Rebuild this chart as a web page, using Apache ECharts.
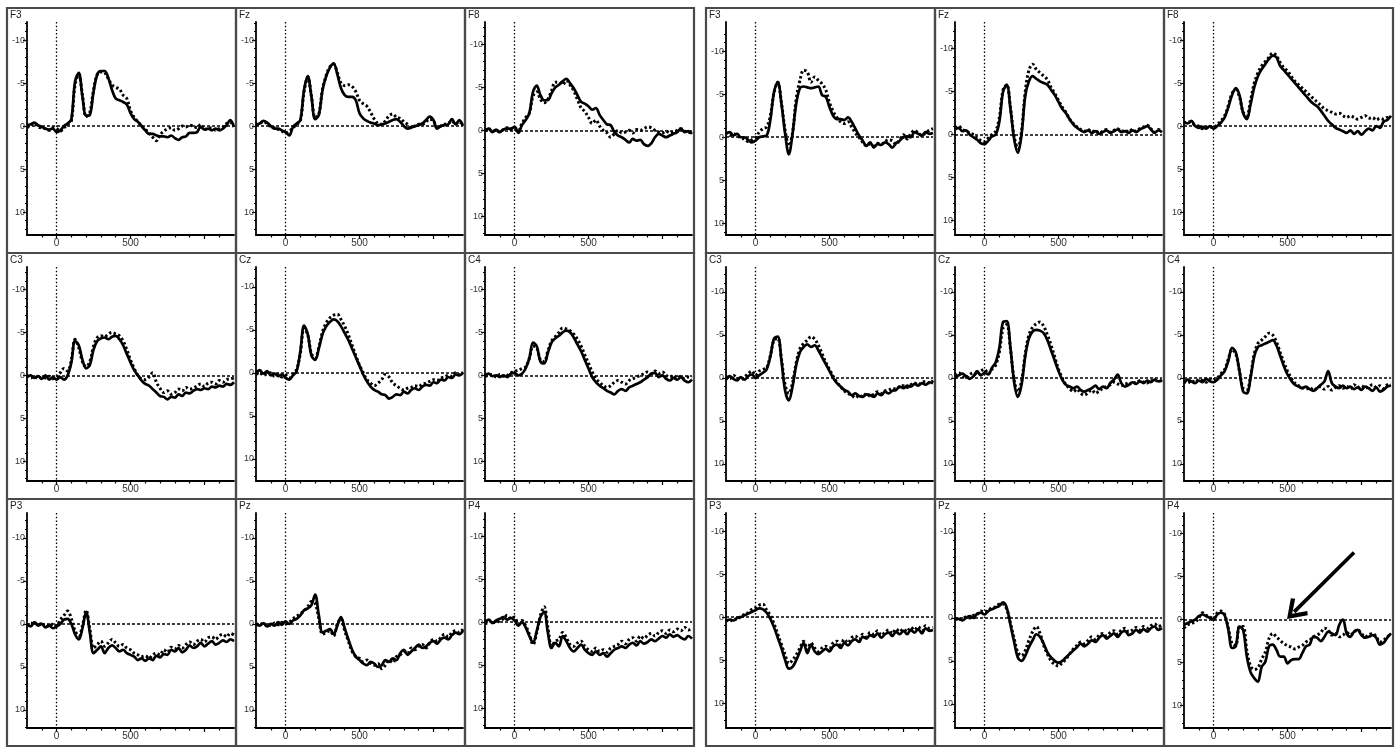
<!DOCTYPE html>
<html>
<head>
<meta charset="utf-8">
<script src="https://cdn.jsdelivr.net/npm/echarts@6/dist/echarts.min.js"></script>
<style>
html,body{margin:0;padding:0;background:#fff;}
#chart{width:1400px;height:754px;}
</style>
</head>
<body>
<div id="chart"></div>
<script>
// time points (ms)
const TIMES = [-200,-175,-150,-125,-100,-75,-50,-25,0,25,50,75,100,125,150,175,200,225,250,275,300,325,350,375,400,425,450,475,500,525,550,575,600,625,650,675,700,725,750,775,800,825,850,875,900,925,950,975,1000,1025,1050,1075,1100,1125,1150,1175,1200];

// tick labels
const X_LABELS = [0, 500];
const X_MAJOR = [0, 500, 1000];
const X_MINOR = [-100, 100, 200, 300, 400, 600, 700, 800, 900, 1100];
const Y_LABELS = [-10, -5, 0, 5, 10];
const Y_MINOR = [-12,-11,-9,-8,-7,-6,-4,-3,-2,-1,1,2,3,4,6,7,8,9,11,12];

// ---------- left group ----------
const F3L_S = [-0.1,-0.2,-0.4,-0.1,0.1,0.3,0.4,0.3, 0.7,0.5,0,-0.3,-0.8,-5.2,-6.2,-3.4, -1.2,-1.3,-4.0,-6.0,-6.4,-6.4,-5.6,-4.2, -3.2,-3.0,-2.8,-2.5,-1.5,-0.8,-0.5,0, 0.5,0.9,0.9,1.1,1.2,1.2,1.3,1.1, 1.4,1.6,1.3,1.2,0.8,0.8,0.7,0.1, 0.4,0.3,0.5,0.3,0.5,0.3,-0.1,-0.7, 0.1];
const F3L_D = [0.2,-0.1,-0.3,0.1,0.2,0.3,0.5,0.2, 0.3,0.6,0.2,-0.2,-0.6,-4.8,-6.0,-3.6, -1.1,-1.6,-4.2,-6.0,-6.3,-6.2,-5.5,-4.8, -4.5,-4.3,-3.6,-3.2,-1.8,-1.0,-0.5,0.0, 0.4,0.8,1.3,1.7,1.0,0.6,0.3,0.2, 0.5,0.3,0.0,0.1,-0.1,0.0,0.2,-0.2, 0.4,0.3,0.2,0.5,0.3,0.1,-0.3,-0.4, 0.1];
const FZL_S = [-0.2,-0.3,-0.6,-0.4,0,0.3,0.3,0.5, 0.7,1.1,0.1,-0.3,-0.7,-4.2,-5.8,-3.4, -0.8,-1.3,-4.2,-5.8,-6.8,-7.3,-6.0,-4.4, -3.6,-3.4,-3.4,-3.0,-1.5,-0.9,-0.6,-0.4, -0.3,-0.1,-0.2,-0.3,-0.5,-0.7,-0.8,-0.5, 0,0.3,0.2,0,-0.1,-0.3,-0.7,-1.1, -0.7,0.3,0,-0.1,-0.2,-0.8,-0.2,-0.7, 0];
const FZL_D = [-0.1,-0.3,-0.5,-0.3,0.1,0.2,0.4,0.6, 0.8,0.6,0.2,-0.2,-0.6,-4.0,-5.7,-3.5, -1.0,-1.4,-4.3,-5.9,-6.9,-7.2,-6.2,-5.0, -4.7,-4.8,-4.6,-4.0,-3.0,-2.6,-2.3,-1.6, -0.8,-0.3,-0.2,-0.6,-1.2,-1.4,-1.0,-0.9, -0.5,-0.2,0.2,0.0,-0.2,-0.2,-0.5,-0.8, -0.6,0.2,0.0,-0.2,-0.3,-0.6,-0.2,-0.5, 0.0];
const F8L_S = [0,-0.2,0.2,-0.1,0.2,-0.1,-0.2,-0.2, -0.4,0.3,-0.6,-1.2,-2.0,-4.5,-5.2,-4.1, -3.5,-3.5,-4.3,-5.0,-5.3,-5.7,-6.0,-5.5, -4.9,-4.1,-3.3,-3.1,-2.8,-2.4,-2.6,-1.8, -1.2,-0.7,-0.6,0.2,0.6,0.8,1.1,1.4, 1.0,1.2,1.1,1.6,1.8,1.5,0.8,0.4, 0.6,0.8,0.6,0.4,0.2,-0.2,0.2,0.1, 0.4];
const F8L_D = [0.1,-0.2,0.1,0.0,0.2,-0.1,-0.3,-0.1, -0.3,0.0,-0.8,-1.5,-2.0,-4.0,-4.5,-3.6, -3.2,-3.6,-4.6,-5.6,-5.6,-5.3,-5.8,-5.3, -4.6,-3.6,-2.6,-2.2,-1.5,-0.8,-1.2,-0.5, 0.0,0.3,0.8,0.4,0.0,0.3,0.2,0.0, 0.3,-0.1,0.0,-0.2,-0.4,-0.3,0.0,0.2, 0.3,0.1,0.3,0.2,0.0,-0.2,0.1,0.2, 0.3];
const C3L_S = [0.2,0.0,0.3,0.1,0.4,0.0,0.5,0.2, 0.5,0.2,0.5,0.0,-1.5,-4.0,-3.5,-1.8, -0.8,-1.2,-3.0,-4.0,-4.3,-4.4,-4.2,-4.5, -4.6,-4.2,-3.5,-2.5,-1.5,-0.6,0.0,0.6, 1.0,1.2,1.6,2.0,2.4,2.5,2.8,2.5, 2.6,2.2,2.4,2.0,2.1,1.8,1.6,1.7, 1.5,1.6,1.3,1.4,1.2,1.3,1.0,1.1, 0.8];
const C3L_D = [0.0,0.3,0.1,0.4,0.2,0.3,0.1,0.4, 0.2,-0.3,-0.8,-0.5,-1.8,-4.2,-3.2,-1.6, -1.0,-1.6,-3.4,-4.4,-4.6,-4.5,-4.8,-5.0, -4.8,-4.6,-4.0,-3.0,-1.8,-0.8,0.0,0.4, 0.5,0.2,-0.3,0.8,1.5,2.0,1.8,2.2, 2.0,1.6,1.8,1.4,1.6,1.5,1.2,1.0, 1.3,0.9,0.8,1.0,0.6,0.8,0.5,0.4, 0.3];
const CZL_S = [0.0,-0.3,0.1,-0.2,0.3,0.1,0.4,0.2, 0.6,0.8,0.3,-0.2,-2.5,-5.5,-4.5,-2.0, -1.5,-2.8,-4.5,-5.4,-5.9,-6.2,-6.0,-5.4, -4.6,-3.8,-2.8,-1.8,-0.8,0.2,1.0,1.6, 2.0,2.2,2.5,2.6,3.0,2.8,2.5,2.6, 2.2,2.4,2.0,1.8,2.0,1.6,1.4,1.5, 1.1,1.2,0.8,0.9,0.5,0.6,0.2,0.3, 0.0];
const CZL_D = [0.2,0.0,0.3,0.1,0.0,0.4,0.2,0.5, 0.3,0.6,0.2,-0.4,-2.3,-5.2,-4.4,-2.2, -1.7,-3.0,-4.8,-5.8,-6.4,-6.7,-6.8,-6.2, -5.4,-4.4,-3.2,-2.0,-0.9,0.0,0.8,1.2, 1.5,1.2,0.8,0.2,0.5,1.2,1.5,1.8, 2.0,1.8,1.7,1.5,1.6,1.3,1.2,1.0, 0.8,0.9,0.6,0.5,0.3,0.4,0.0,0.2, -0.1];
const C4L_S = [0.0,-0.2,0.1,0.0,0.2,0.0,0.2,-0.2, -0.3,0.0,-0.2,-0.8,-2.0,-3.8,-3.4,-1.6, -1.4,-2.6,-3.8,-4.3,-4.6,-5.0,-5.2,-5.0, -4.4,-3.6,-2.8,-1.8,-0.8,0.2,0.8,1.2, 1.5,1.8,2.0,2.2,1.8,1.6,1.8,1.4, 1.2,1.0,0.8,0.5,0.2,-0.2,-0.3,0.2, 0.0,0.4,0.6,0.3,0.5,0.2,0.6,0.8, 0.5];
const C4L_D = [0.1,0.0,-0.1,0.2,-0.1,0.1,0.0,-0.3, -0.5,-0.6,-0.8,-1.0,-2.0,-3.4,-3.2,-1.8, -1.6,-2.8,-4.0,-4.5,-5.0,-5.5,-5.4,-5.2, -4.8,-4.2,-3.4,-2.4,-1.4,-0.4,0.4,0.8, 1.2,1.4,1.2,0.8,0.6,0.8,1.0,0.6, 0.4,0.2,0.0,-0.2,-0.4,-0.2,-0.5,-0.2, -0.4,0.0,0.2,0.0,0.3,0.1,0.4,0.2, 0.3];
const P3L_S = [0.0,0.3,-0.2,0.2,0.0,0.4,0.2,0.5, 0.3,0.0,-0.5,-0.6,0.0,1.2,1.8,0.5, -1.4,1.0,3.4,3.0,2.6,3.4,2.8,2.5, 2.8,3.2,3.0,3.4,3.6,3.8,4.2,4.0, 4.3,4.0,4.2,3.7,3.9,3.5,3.6,3.0, 3.2,2.8,3.3,3.0,2.5,2.8,2.6,2.2, 2.6,2.3,2.0,2.4,2.2,1.9,2.1,1.8, 2.0];
const P3L_D = [0.2,-0.1,0.1,-0.2,0.2,0.0,0.3,0.0, 0.2,-0.5,-1.0,-1.5,-0.6,0.8,1.4,0.2, -1.6,0.6,2.8,2.4,2.0,2.6,2.2,1.8, 2.2,2.6,2.4,2.8,3.0,3.4,3.6,3.8, 3.7,4.0,3.6,3.4,3.6,3.0,3.3,2.7, 2.9,2.5,2.8,2.4,2.1,2.4,2.0,1.8, 2.1,1.6,1.5,1.8,1.4,1.2,1.5,1.1, 1.3];
const PZL_S = [0.0,0.2,-0.1,0.3,0.0,0.2,-0.2,0.1, -0.3,0.0,-0.4,-0.6,-1.0,-1.6,-1.8,-2.2, -3.4,-1.0,1.0,0.8,0.6,1.2,0.2,-0.8, 0.5,1.8,3.0,3.8,4.2,4.6,4.8,4.4, 4.6,5.0,4.8,4.2,4.4,4.0,4.2,3.4, 3.0,3.6,3.2,2.8,2.4,2.8,2.6,2.2, 2.0,2.3,1.8,1.6,1.8,1.3,1.0,1.2, 0.8];
const PZL_D = [0.1,-0.1,0.2,0.0,0.2,-0.1,0.1,-0.2, 0.0,-0.2,-0.6,-0.9,-1.2,-1.5,-2.0,-2.6, -2.4,-0.6,1.2,1.0,0.8,1.4,0.0,-0.6, 0.8,2.0,3.2,3.8,4.0,4.4,4.2,4.6, 4.8,4.6,5.2,4.8,4.2,4.5,3.8,3.6, 3.2,3.4,2.8,3.0,2.6,2.4,2.8,2.2, 1.8,2.0,1.6,1.2,1.5,1.0,0.8,1.0, 0.6];
const P4L_S = [0.0,-0.3,0.1,-0.2,-0.4,-0.6,-0.3,-0.5, -0.2,0.4,0.0,0.6,1.6,2.4,1.0,-0.6, -1.2,1.2,3.0,2.4,2.8,1.6,2.2,3.0, 3.4,3.0,2.6,3.2,3.6,3.8,3.4,3.8, 3.6,4.0,3.6,3.2,3.0,2.8,3.0,2.6, 2.4,2.7,2.2,2.5,2.3,2.0,2.2,1.9, 1.6,1.8,1.4,1.7,1.5,1.8,2.0,1.6, 1.9];
const P4L_D = [0.2,0.0,-0.2,0.1,-0.2,-0.4,-0.8,-0.4, -0.6,0.2,-0.2,0.4,1.4,2.6,1.2,-0.8, -1.8,0.6,2.8,2.2,2.0,1.2,1.8,2.6, 2.8,2.4,2.2,2.8,3.2,3.4,3.0,3.4, 3.2,3.5,3.0,2.8,2.6,2.2,2.5,2.0, 1.8,2.2,1.6,1.9,1.5,1.3,1.6,1.2, 1.0,1.3,0.9,1.1,0.8,1.0,0.6,0.9, 0.7];

// ---------- right group ----------
const F3R_S = [-0.4,-0.6,-0.2,-0.4,0,0,0.3,0.6, 0.4,0,-0.1,-0.2,-2.0,-5.3,-6.4,-3.9, -0.4,2.0,-0.4,-3.9,-5.7,-5.9,-5.8,-5.7, -5.8,-5.9,-4.9,-4.7,-3.5,-2.5,-2.1,-2.1, -2.0,-2.3,-1.8,-1.0,-0.2,0.4,1.0,0.6, 1.2,0.8,0.9,0.6,0.8,1.2,0.7,0.4, 0,-0.1,0,-0.6,-0.4,-0.2,-0.6,-0.4, -0.5];
const F3R_D = [-0.6,-0.2,-0.4,-0.2,0.1,0.2,0.5,0.3, 0.0,-0.6,-1.0,-1.2,-2.5,-5.2,-6.4,-4.0, -0.8,1.0,-0.5,-4.5,-6.6,-7.8,-7.6,-6.4, -7.0,-6.6,-6.2,-5.5,-4.0,-3.0,-2.3,-1.8, -1.6,-1.8,-1.2,-0.5,0.0,0.6,1.0,0.8, 1.0,0.7,0.8,0.5,0.3,0.4,0.8,0.3, -0.3,0.2,-0.4,-0.8,-0.5,-0.2,-0.5,-0.8, -1.0];
const FZR_S = [-0.6,-0.8,-0.4,-0.5,0.0,0.3,0.6,1.0, 1.1,0.7,0.2,0.0,-1.5,-5.0,-5.8,-3.0, 0.5,2.1,0.0,-4.5,-6.2,-6.8,-6.5,-6.2, -6.0,-5.8,-5.2,-4.6,-3.8,-3.0,-2.5,-1.8, -1.2,-0.8,-0.5,-0.3,-0.5,-0.2,-0.4,-0.1, -0.3,-0.5,-0.2,-0.4,-0.6,-0.3,-0.4,-0.2, -0.5,-0.3,-0.6,-0.8,-1.0,-0.6,-0.2,-0.5, -0.3];
const FZR_D = [-0.8,-1.0,-0.6,-0.4,-0.2,0.0,0.4,0.7, 0.8,0.4,0.0,-0.4,-2.0,-5.2,-5.8,-3.2, 0.2,1.6,-0.4,-5.0,-7.5,-8.2,-7.6,-7.2, -6.8,-6.4,-5.5,-4.8,-4.0,-3.2,-2.6,-1.8, -1.3,-0.9,-0.6,-0.4,-0.6,-0.3,-0.5,-0.2, -0.4,-0.6,-0.3,-0.5,-0.7,-0.4,-0.5,-0.3, -0.6,-0.4,-0.7,-0.9,-1.1,-0.7,-0.3,-0.6, -0.4];
const F8R_S = [-0.5,-0.3,-0.6,0.0,0.2,0.1,0.3,0.0, 0.3,0.0,-0.4,-1.0,-2.2,-3.6,-4.4,-3.6, -1.5,-0.8,-2.5,-4.5,-5.8,-6.6,-7.2,-7.8, -8.2,-8.0,-7.0,-6.5,-6.0,-5.5,-5.0,-4.5, -4.0,-3.5,-3.0,-2.6,-2.3,-1.8,-1.2,-0.6, -0.2,0.2,0.4,0.6,0.8,0.5,0.9,0.6, 1.0,0.6,0.3,0.5,0.0,0.2,-0.5,-0.7, -1.2];
const F8R_D = [-0.3,-0.5,-0.4,-0.1,0.0,0.3,0.2,0.1, 0.2,-0.2,-0.6,-1.2,-2.4,-3.8,-4.2,-3.4, -1.6,-1.2,-3.0,-5.0,-6.2,-7.0,-7.5,-8.0, -8.5,-8.2,-7.4,-6.8,-6.4,-5.8,-5.2,-4.8, -4.4,-4.0,-3.6,-3.2,-2.8,-2.4,-2.0,-1.8, -1.6,-1.4,-1.5,-1.2,-1.0,-1.2,-1.0,-0.8, -1.0,-1.2,-0.9,-1.0,-0.7,-0.9,-0.8,-1.0, -1.0];
const C3R_S = [0.2,-0.2,0.1,0.3,-0.1,0.2,-0.2,-0.4, 0.0,-0.3,-0.6,-1.0,-2.5,-4.6,-4.8,-2.0, 1.5,2.6,1.0,-1.5,-3.0,-3.6,-3.9,-3.6, -3.8,-3.2,-2.4,-1.6,-0.8,0.0,0.6,1.0, 1.4,1.6,2.0,1.8,2.1,2.2,1.9,2.0, 2.2,1.8,2.0,1.6,1.8,1.5,1.4,1.0, 1.2,0.9,1.0,0.7,0.9,0.6,0.8,0.5, 0.6];
const C3R_D = [-0.2,0.1,-0.3,0.0,0.2,-0.1,-0.5,-0.8, -0.3,-0.8,-1.0,-1.2,-2.6,-4.4,-4.6,-2.2, 0.8,1.8,0.6,-1.8,-3.4,-4.0,-4.4,-4.8, -4.5,-3.8,-2.8,-1.8,-1.0,-0.2,0.5,1.0, 1.5,1.8,2.0,2.3,2.0,2.2,1.8,2.1, 1.9,1.6,1.8,1.5,1.4,1.2,1.3,1.0, 0.9,1.1,0.8,0.6,0.8,0.5,0.4,0.6, 0.3];
const CZR_S = [0.0,-0.3,-0.5,-0.2,0.1,-0.2,-0.8,-0.3, -0.6,-0.4,-1.2,-1.8,-3.5,-6.5,-6.6,-3.5, 0.5,2.2,0.8,-2.5,-4.6,-5.4,-5.6,-5.5, -5.2,-4.4,-3.2,-2.0,-0.8,0.2,0.8,1.0, 1.2,1.0,1.4,1.6,1.4,1.2,0.9,1.3, 1.0,1.2,0.6,0.2,-0.4,0.6,1.0,0.8, 0.5,0.7,0.4,0.6,0.3,0.5,0.2,0.4, 0.3];
const CZR_D = [-0.3,-0.6,-0.2,0.0,-0.4,-0.6,-0.3,-0.8, -1.0,-0.5,-1.0,-1.5,-3.0,-5.8,-6.2,-3.4, 0.2,1.6,0.4,-2.8,-5.0,-5.9,-6.3,-6.5, -6.0,-5.0,-3.8,-2.4,-1.0,0.0,0.8,1.2, 1.6,1.3,1.8,2.0,1.7,1.4,1.8,1.5, 1.2,1.0,0.8,0.5,0.7,0.9,0.6,0.8, 0.5,0.6,0.3,0.5,0.6,0.3,0.4,0.2, 0.4];
const C4R_S = [0.5,0.2,0.4,0.6,0.3,0.5,0.1,0.4, 0.5,0.2,-0.3,-0.8,-2.0,-3.5,-3.0,-0.8, 1.6,1.8,0.0,-2.5,-3.6,-3.8,-4.0,-4.2, -4.4,-3.8,-2.6,-1.4,-0.4,0.3,0.8,1.0, 1.2,1.0,1.3,1.5,1.2,0.8,0.4,-0.8, 0.6,1.0,1.2,0.9,1.2,1.0,1.3,1.1, 1.4,1.0,1.2,1.5,1.1,1.6,1.4,1.0, 0.9];
const C4R_D = [0.4,0.6,0.3,0.5,0.2,0.3,0.5,0.2, 0.3,0.0,-0.5,-1.0,-2.2,-3.3,-2.8,-0.8, 1.2,1.4,-0.2,-2.8,-4.0,-4.4,-4.8,-5.2, -5.0,-4.2,-3.0,-1.8,-0.8,0.0,0.6,0.9, 1.1,1.3,1.1,1.4,1.2,1.0,1.3,1.0, 1.4,1.1,0.9,1.2,1.0,1.3,0.8,1.1, 0.9,1.2,1.0,0.8,1.1,0.9,1.2,0.8, 0.7];
const P3R_S = [0.5,0.3,0.4,0.1,0.0,-0.2,-0.4,-0.6, -0.8,-1.0,-0.9,-0.5,0.2,1.2,2.4,3.6, 5.0,6.0,5.8,5.0,4.0,3.0,4.2,3.2, 4.0,4.3,4.0,3.7,4.0,3.4,3.2,3.6, 3.0,3.3,2.8,2.6,2.9,2.3,2.5,2.1, 2.3,1.9,2.4,2.0,1.8,2.2,1.7,2.0, 1.6,2.0,1.5,1.8,1.4,1.9,1.3,1.6, 1.5];
const P3R_D = [0.3,0.5,0.2,0.3,-0.1,-0.3,-0.5,-0.9, -1.1,-1.4,-1.5,-0.8,-0.2,0.8,2.0,3.2, 4.4,5.4,5.0,4.4,3.6,2.8,3.8,3.0, 3.6,4.0,3.6,3.4,3.6,3.0,2.8,3.2, 2.6,3.0,2.4,2.2,2.6,2.0,2.3,1.8, 2.0,1.6,2.1,1.8,1.5,1.9,1.4,1.7, 1.4,1.7,1.2,1.5,1.1,1.6,1.0,1.3, 1.2];
const PZR_S = [0.2,0.1,0.3,0.0,-0.2,0.0,-0.5,-0.6, -0.4,-0.8,-1.0,-1.2,-1.4,-1.8,-1.2,0.8, 2.8,4.6,5.0,4.4,3.4,2.6,1.9,2.2, 3.0,4.0,4.6,5.0,5.2,5.0,4.6,4.2, 3.8,3.4,3.0,3.3,3.0,2.6,2.8,2.3, 2.0,2.4,2.1,1.8,2.2,1.7,1.5,2.0, 1.8,1.4,1.7,1.3,1.6,1.2,1.0,1.4, 1.2];
const PZR_D = [0.0,0.2,0.1,-0.1,0.0,-0.3,-0.4,-0.8, -0.7,-0.9,-1.2,-1.3,-1.6,-1.6,-1.0,0.6, 2.4,4.0,4.4,3.8,2.6,1.6,1.0,1.8, 3.2,4.2,5.0,5.4,5.6,5.2,4.8,4.2, 3.6,3.2,2.8,3.0,2.6,2.2,2.5,2.0, 1.8,2.1,1.7,1.5,1.9,1.4,1.2,1.6, 1.4,1.1,1.4,1.0,1.2,0.9,0.7,1.0, 0.8];
const P4R_S = [0.6,0.4,0.2,0,-0.4,-0.6,-0.4,-0.2, 0,-0.6,-0.8,-0.5,1.2,3.3,3.1,0.8, 1.2,4.3,6.1,6.8,7.2,5.5,4.9,3.1, 2.9,3.5,4.3,4.3,5.1,4.7,4.6,4.6, 3.9,3.1,2.9,2.0,2.1,2.5,2.0,1.4, 1.6,1.8,0.6,0.0,1.6,2.0,1.4,1.2, 1.8,2.1,2.0,1.8,2.1,2.9,2.7,2.1, 1.6];
const P4R_D = [1.0,0.6,0.4,0.3,-0.2,-0.8,-0.5,-0.3, -0.1,-0.8,-1.0,-0.6,1.0,2.8,3.0,0.8, 0.8,3.6,5.4,5.8,5.6,4.6,3.8,2.2, 1.6,2.0,2.4,2.8,3.0,3.2,3.4,3.2, 3.0,2.6,2.4,2.0,1.8,1.5,1.0,1.2, 1.8,1.6,2.0,1.8,1.5,1.8,1.4,1.2, 1.6,2.0,1.8,1.6,2.0,2.6,2.4,2.0, 1.6];

// arrow annotation in the P4 (right) panel, data coordinates [ms, µV]
const ARROW_FROM = [950, -7.8];
const ARROW_TO = [545, -0.9];

const PANELS = [
  {name:'F3', g:0, r:0, c:0, s:F3L_S, d:F3L_D, ymin:-12.1},
  {name:'Fz', g:0, r:0, c:1, s:FZL_S, d:FZL_D, ymin:-12.1},
  {name:'F8', g:0, r:0, c:2, s:F8L_S, d:F8L_D, ymin:-12.6},
  {name:'C3', g:0, r:1, c:0, s:C3L_S, d:C3L_D, ymin:-12.6},
  {name:'Cz', g:0, r:1, c:1, s:CZL_S, d:CZL_D, ymin:-12.3},
  {name:'C4', g:0, r:1, c:2, s:C4L_S, d:C4L_D, ymin:-12.6},
  {name:'P3', g:0, r:2, c:0, s:P3L_S, d:P3L_D, ymin:-12.9},
  {name:'Pz', g:0, r:2, c:1, s:PZL_S, d:PZL_D, ymin:-12.9},
  {name:'P4', g:0, r:2, c:2, s:P4L_S, d:P4L_D, ymin:-12.7},
  {name:'F3', g:1, r:0, c:0, s:F3R_S, d:F3R_D, ymin:-13.4},
  {name:'Fz', g:1, r:0, c:1, s:FZR_S, d:FZR_D, ymin:-13.1},
  {name:'F8', g:1, r:0, c:2, s:F8R_S, d:F8R_D, ymin:-12.1},
  {name:'C3', g:1, r:1, c:0, s:C3R_S, d:C3R_D, ymin:-12.9},
  {name:'Cz', g:1, r:1, c:1, s:CZR_S, d:CZR_D, ymin:-12.9},
  {name:'C4', g:1, r:1, c:2, s:C4R_S, d:C4R_D, ymin:-12.9},
  {name:'P3', g:1, r:2, c:0, s:P3R_S, d:P3R_D, ymin:-12.1},
  {name:'Pz', g:1, r:2, c:1, s:PZR_S, d:PZR_D, ymin:-12.2},
  {name:'P4', g:1, r:2, c:2, s:P4R_S, d:P4R_D, ymin:-12.4, arrow:true}
];

// layout
const GROUP_X = [7, 706];
const PANEL_W = 229;
const ROW_Y = [8, 253, 499, 746];
const PX_PER_UV = 8.6;
const FONT = "'Liberation Sans', Arial, sans-serif";

const chart = echarts.init(document.getElementById('chart'), null, {renderer:'canvas'});

const grids = [], xAxes = [], yAxes = [], series = [], graphics = [];

PANELS.forEach((p, i) => {
  const px = GROUP_X[p.g] + p.c * PANEL_W;
  const py = ROW_Y[p.r];
  const ph = ROW_Y[p.r + 1] - py;
  const gh = ph - 32;
  const gw = PANEL_W - 22;
  grids.push({left: px + 20, top: py + 14, width: gw, height: gh, containLabel: false});
  const ymin = p.ymin;
  const ymax = ymin + gh / PX_PER_UV;

  xAxes.push({
    type:'value', gridIndex:i, min:-200, max:1200, position:'bottom',
    axisLine:{show:true, onZero:false, lineStyle:{color:'#000', width:1.8}},
    axisTick:{show:true, customValues:X_MAJOR, length:4, lineStyle:{color:'#000', width:1.2}},
    axisLabel:{show:true, customValues:X_LABELS, fontSize:10, color:'#333', margin:3, fontFamily:FONT},
    splitLine:{show:false}
  });
  xAxes.push({
    type:'value', gridIndex:i, min:-200, max:1200, position:'bottom',
    axisLine:{show:false, onZero:false},
    axisTick:{show:true, customValues:X_MINOR, length:2.5, lineStyle:{color:'#000', width:1.2}},
    axisLabel:{show:false}, splitLine:{show:false}
  });
  yAxes.push({
    type:'value', gridIndex:i, inverse:true, min:ymin, max:ymax, position:'left',
    axisLine:{show:true, onZero:false, lineStyle:{color:'#000', width:1.8}},
    axisTick:{show:true, customValues:Y_LABELS, length:4, lineStyle:{color:'#000', width:1.2}},
    axisLabel:{show:true, customValues:Y_LABELS, fontSize:9, color:'#333', margin:2, fontFamily:FONT},
    splitLine:{show:false}
  });
  yAxes.push({
    type:'value', gridIndex:i, inverse:true, min:ymin, max:ymax, position:'left',
    axisLine:{show:false, onZero:false},
    axisTick:{show:true, customValues:Y_MINOR, length:2, lineStyle:{color:'#000', width:1}},
    axisLabel:{show:false}, splitLine:{show:false}
  });

  const solidData = TIMES.map((t, k) => [t, p.s[k]]);
  const dotData = TIMES.map((t, k) => [t, p.d[k]]);

  series.push({
    type:'line', name:p.name + ' solid', xAxisIndex:2*i, yAxisIndex:2*i,
    data:solidData, showSymbol:false, symbol:'none', smooth:0.35,
    lineStyle:{color:'#000', width:2.7}, z:3, silent:true,
    markLine:{
      silent:true, symbol:['none','none'], label:{show:false}, animation:false,
      emphasis:{disabled:true},
      data:[
        {xAxis:0, lineStyle:{color:'#000', width:1.3, type:[1.5,2.2]}},
        {yAxis:0, lineStyle:{color:'#000', width:1.6, type:[3,2]}}
      ]
    }
  });
  const dotted = {
    type:'line', name:p.name + ' dotted', xAxisIndex:2*i, yAxisIndex:2*i,
    data:dotData, showSymbol:false, symbol:'none', smooth:0.35,
    lineStyle:{color:'#000', width:3, type:[2.4,2.4]}, z:4, silent:true
  };
  if (p.arrow) {
    dotted.markLine = {
      silent:true, animation:false, label:{show:false},
      symbol:['none', 'path://M50,0 L100,62 L86,72 L50,26 L14,72 L0,62 Z'],
      symbolSize:[24, 20],
      lineStyle:{color:'#000', width:3.6, type:'solid'},
      emphasis:{disabled:true},
      data:[[{coord:ARROW_FROM}, {coord:ARROW_TO}]]
    };
  }
  series.push(dotted);

  graphics.push({
    type:'rect', shape:{x:px, y:py, width:PANEL_W, height:ph},
    style:{fill:null, stroke:'#4a4a4a', lineWidth:2.2}, z:10, silent:true
  });
  graphics.push({
    type:'text', x:px + 3, y:py + 2,
    style:{text:p.name, fontSize:10, fill:'#222', fontFamily:FONT}, z:11, silent:true
  });
});

chart.setOption({
  backgroundColor:'#fff',
  animation:false,
  grid:grids, xAxis:xAxes, yAxis:yAxes, series:series,
  graphic:{elements:graphics}
});
</script>
</body>
</html>
